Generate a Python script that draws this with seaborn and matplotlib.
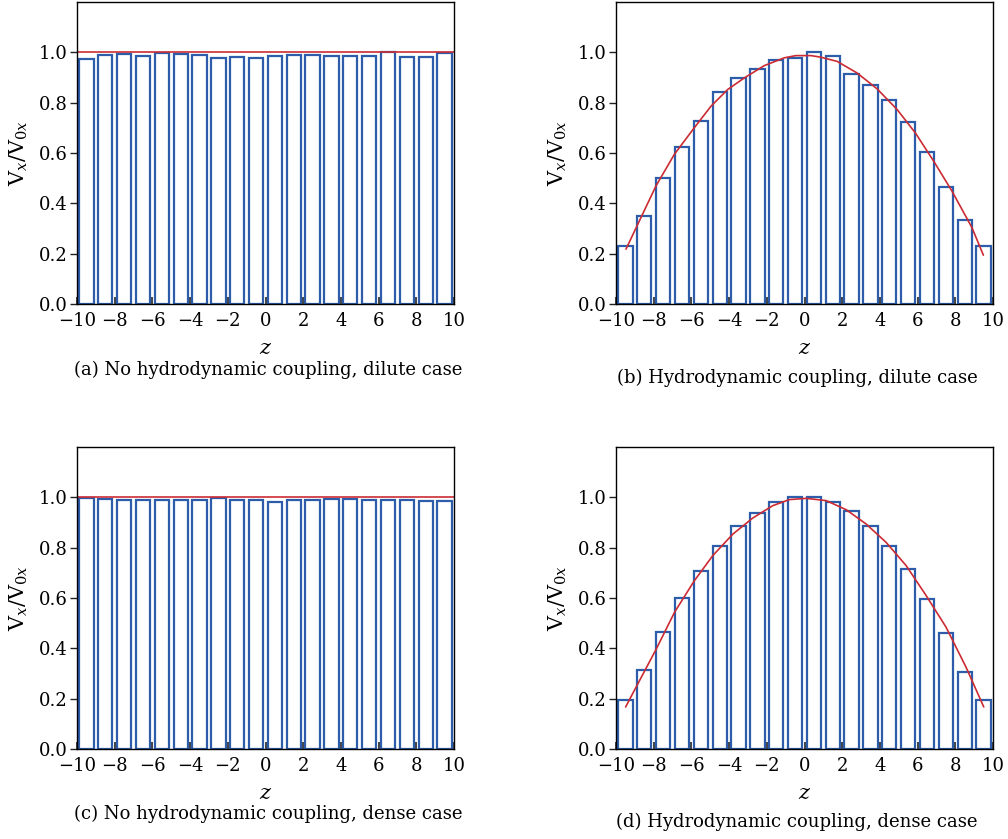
import numpy as np
import pandas as pd
import matplotlib
matplotlib.use("Agg")
import matplotlib.pyplot as plt
import seaborn as sns

sns.set_theme(style="white")
plt.rcParams['font.family'] = ['DejaVu Serif']
plt.rcParams['mathtext.fontset'] = 'dejavuserif'
plt.rcParams['text.color'] = 'black'
plt.rcParams['axes.labelcolor'] = 'black'
plt.rcParams['xtick.color'] = 'black'
plt.rcParams['ytick.color'] = 'black'

# bin centres
z_bins = [-9.5, -8.5, -7.5, -6.5, -5.5, -4.5, -3.5, -2.5, -1.5, -0.5,
          0.5, 1.5, 2.5, 3.5, 4.5, 5.5, 6.5, 7.5, 8.5, 9.5]

vals_a = [0.973, 0.988, 0.995, 0.985, 0.996, 0.993, 0.989, 0.976, 0.981, 0.979,
          0.987, 0.989, 0.988, 0.987, 0.987, 0.987, 1.000, 0.983, 0.981, 0.999]
vals_b = [0.231, 0.349, 0.499, 0.622, 0.728, 0.844, 0.897, 0.934, 0.971, 0.976,
          1.000, 0.984, 0.914, 0.870, 0.810, 0.725, 0.602, 0.466, 0.335, 0.230]
vals_c = [0.999, 0.993, 0.989, 0.991, 0.991, 0.989, 0.988, 0.997, 0.989, 0.989,
          0.981, 0.991, 0.991, 0.995, 0.992, 0.991, 0.988, 0.989, 0.985, 0.985]
vals_d = [0.196, 0.313, 0.464, 0.599, 0.707, 0.807, 0.885, 0.939, 0.980, 1.000,
          1.000, 0.983, 0.944, 0.886, 0.805, 0.714, 0.596, 0.460, 0.307, 0.196]

# red curves
line_a_x = [-10, 10]
line_a_y = [1.0, 1.0]
line_c_x = [-10, 10]
line_c_y = [1.0, 1.0]
line_b_x = [-9.47, -8.59, -7.88, -6.91, -5.85, -4.96, -4.08, -3.20, -2.14, -1.08,
            -0.46, 0.34, 0.85, 1.73, 2.79, 3.85, 4.91, 5.88, 6.85, 7.82, 8.88, 9.49]
line_b_y = [0.218, 0.357, 0.469, 0.594, 0.700, 0.786, 0.852, 0.898, 0.947, 0.978,
            0.987, 0.987, 0.981, 0.964, 0.918, 0.855, 0.773, 0.680, 0.568, 0.449, 0.304, 0.194]
line_d_x = [-9.49, -8.75, -7.86, -6.89, -5.84, -4.86, -3.80, -2.74, -1.68, -0.80,
            0.09, 1.15, 2.21, 3.27, 4.33, 5.39, 6.45, 7.51, 8.57, 9.51]
line_d_y = [0.167, 0.272, 0.398, 0.544, 0.669, 0.769, 0.854, 0.918, 0.967, 0.991,
            0.996, 0.987, 0.951, 0.894, 0.821, 0.729, 0.610, 0.484, 0.325, 0.167]

captions = ["(a) No hydrodynamic coupling, dilute case",
            "(b) Hydrodynamic coupling, dilute case",
            "(c) No hydrodynamic coupling, dense case",
            "(d) Hydrodynamic coupling, dense case"]

xticks = [-10, -8, -6, -4, -2, 0, 2, 4, 6, 8, 10]
yticks = [0.0, 0.2, 0.4, 0.6, 0.8, 1.0]

fig = plt.figure(figsize=(10.08, 8.39), dpi=100)

W = 377 / 1008
H = 302 / 839
positions = [(77 / 1008, 1 - 304 / 839), (616 / 1008, 1 - 304 / 839),
             (77 / 1008, 1 - 749 / 839), (616 / 1008, 1 - 749 / 839)]
caption_pos = [(268 / 1008, 1 - 370 / 839), (797 / 1008, 1 - 378 / 839),
               (268 / 1008, 1 - 814 / 839), (797 / 1008, 1 - 822 / 839)]

bar_vals = [vals_a, vals_b, vals_c, vals_d]
lines = [(line_a_x, line_a_y), (line_b_x, line_b_y), (line_c_x, line_c_y), (line_d_x, line_d_y)]

blue = '#2d5cab'
red = '#cc2b33'

for i in range(4):
    ax = fig.add_axes([positions[i][0], positions[i][1], W, H])
    df = pd.DataFrame({'z': z_bins, 'v': bar_vals[i]})
    sns.barplot(data=df, x='z', y='v', native_scale=True, width=0.76,
                fill=False, color=blue, linewidth=1.6, errorbar=None, ax=ax)
    for p in ax.patches:
        p.set_edgecolor(blue)
        p.set_facecolor('white')
        p.set_linewidth(1.6)
    lx, ly = lines[i]
    sns.lineplot(x=lx, y=ly, color=red, linewidth=1.2, ax=ax, sort=False)
    ax.set_xlim(-10, 10)
    ax.set_ylim(0, 1.2)
    ax.set_xticks(xticks)
    ax.set_xticklabels([('\u2212' + str(-t)) if t < 0 else str(t) for t in xticks])
    ax.set_yticks(yticks)
    ax.set_yticklabels([f"{t:.1f}" for t in yticks])
    ax.tick_params(axis='x', direction='in', length=5, width=1.2, color='#222222',
                   labelsize=13, pad=6)
    ax.tick_params(axis='y', direction='out', length=5, width=1.0, color='#222222',
                   labelsize=13, pad=2)
    ax.tick_params(bottom=True, left=True, top=False, right=False)
    for s in ax.spines.values():
        s.set_color('black')
        s.set_linewidth(1.0)
    ax.set_xlabel(r'$z$', fontsize=15, labelpad=6)
    ax.set_ylabel(r'$\mathrm{V}_x/\mathrm{V}_{0x}$', fontsize=15, labelpad=6)
    fig.text(caption_pos[i][0], caption_pos[i][1], captions[i], ha='center', va='center',
             fontsize=13)

fig.savefig('out.png', dpi=100, facecolor='white')
